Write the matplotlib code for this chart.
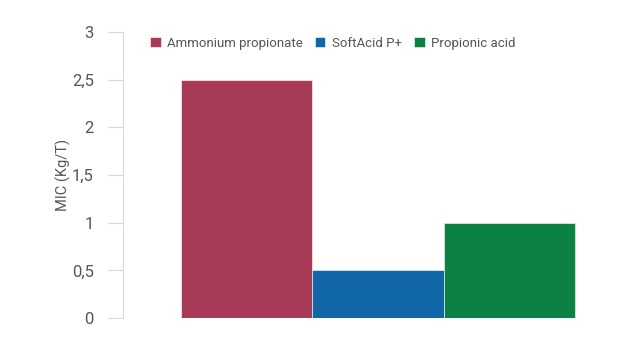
import matplotlib.pyplot as plt
from matplotlib.ticker import FuncFormatter

products = ['Ammonium propionate', 'SoftAcid P+', 'Propionic acid']
mic = [2.5, 0.5, 1.0]
colors = ['#a63a57', '#1166a8', '#0b8243']
yticks = [0, 0.5, 1, 1.5, 2, 2.5, 3]

plt.rcParams['font.family'] = ['Roboto', 'DejaVu Sans']

fig = plt.figure(figsize=(6.24, 3.5), dpi=100)
ax = fig.add_axes([123 / 624, 32 / 350, 477 / 624, 286 / 350])

for i, (name, val, c) in enumerate(zip(products, mic, colors)):
    ax.bar(i, val, width=1.0, color=c, label=name, edgecolor='white', linewidth=0.4)

ax.set_xlim(-0.9417, 2.69)
ax.set_ylim(0, 3)
ax.set_yticks(yticks)
ax.yaxis.set_major_formatter(FuncFormatter(lambda v, p: ('%g' % v).replace('.', ',')))
ax.set_xticks([])

for s in ['top', 'right', 'bottom']:
    ax.spines[s].set_visible(False)
ax.spines['left'].set_color('#d9d9d9')
ax.tick_params(axis='y', colors='#d9d9d9', labelcolor='#555555', length=11,
               labelsize=12, pad=10)
ax.set_ylabel('MIC (Kg/T)', color='#555555', fontsize=10.5, labelpad=1)

ax.legend(loc='upper center', bbox_to_anchor=(0.44, 1.025), ncol=3, frameon=False,
          fontsize=9.5, handlelength=0.8, handleheight=0.8, handletextpad=0.5,
          columnspacing=0.9, labelcolor='#555555')

plt.savefig('out.png', dpi=100)
